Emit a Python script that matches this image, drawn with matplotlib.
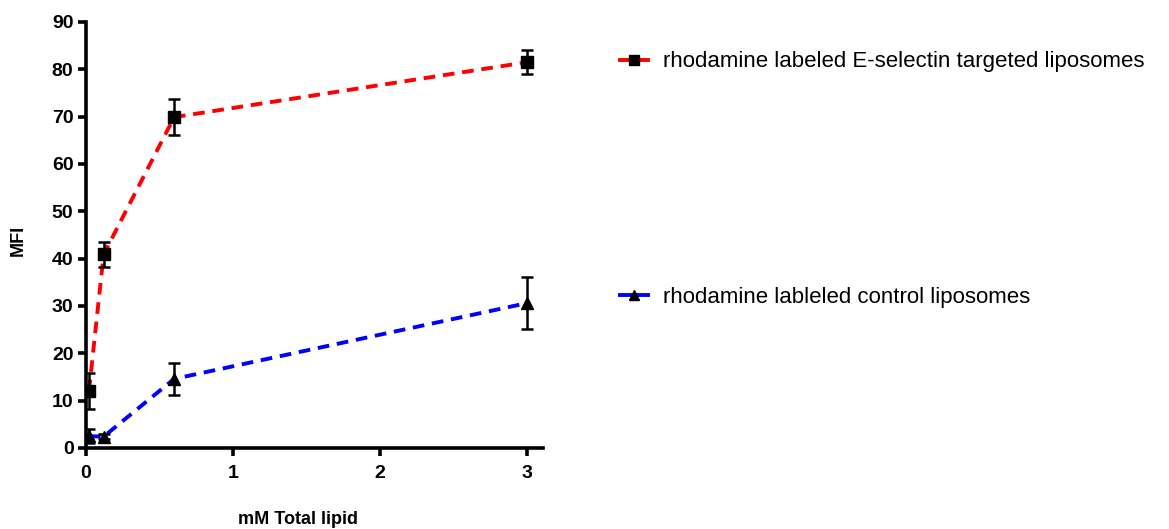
import matplotlib
matplotlib.use("Agg")
import matplotlib.pyplot as plt
from matplotlib.lines import Line2D

plt.rcParams['font.family'] = ['Liberation Sans', 'DejaVu Sans']

x_vals = [0.02, 0.12, 0.6, 3.0]
red_vals = [12.0, 40.9, 69.9, 81.5]
red_err = [3.8, 2.6, 3.8, 2.5]
blue_vals = [2.5, 2.4, 14.6, 30.6]
blue_err = [1.5, 0.5, 3.4, 5.5]
red_label = "rhodamine labeled E-selectin targeted liposomes"
blue_label = "rhodamine lableled control liposomes"
x_ticks = [0, 1, 2, 3]
y_ticks = [0, 10, 20, 30, 40, 50, 60, 70, 80, 90]

fig = plt.figure(figsize=(11.69, 5.29), dpi=100)
ax = fig.add_axes([86/1169, 1-448/529, (543-86)/1169, (448-22)/529])

for vals, errs, col, mk in [(red_vals, red_err, 'red', 's'), (blue_vals, blue_err, 'blue', '^')]:
    ax.plot(x_vals, vals, color=col, lw=2.8, ls=(0, (3, 2.0)), zorder=2)
    ax.errorbar(x_vals, vals, yerr=errs, fmt=mk, color='black', ms=8.5,
                ecolor='black', elinewidth=1.8, capsize=4.5, capthick=1.8, zorder=3)

ax.set_xlim(0, 3.11)
ax.set_ylim(0, 90)
ax.set_xticks(x_ticks)
ax.set_yticks(y_ticks)
for s in ['top', 'right']:
    ax.spines[s].set_visible(False)
for s in ['left', 'bottom']:
    ax.spines[s].set_linewidth(2.6)
ax.tick_params(width=2.6, length=6, direction='out', labelsize=14, pad=3)
for lab in ax.get_xticklabels() + ax.get_yticklabels():
    lab.set_fontweight('bold')
ax.tick_params(axis='x', pad=6)

fig.text(298/1169, 1-520/529, "mM Total lipid", ha='center', va='center', fontsize=13, fontweight='bold')
fig.text(18/1169, 1-240/529, "MFI", ha='center', va='center', fontsize=13, fontweight='bold', rotation=90)

h1 = Line2D([], [], color='red', lw=2.8, marker='s', mfc='black', mec='black', ms=6.5)
h2 = Line2D([], [], color='blue', lw=2.8, marker='^', mfc='black', mec='black', ms=6.5)
leg1 = fig.legend([h1], [red_label], loc='center left', bbox_to_anchor=(600/1169, 1-62/529),
                  frameon=False, fontsize=16, handlelength=1.25, handletextpad=0.7)
leg2 = fig.legend([h2], [blue_label], loc='center left', bbox_to_anchor=(600/1169, 1-297/529),
                  frameon=False, fontsize=16, handlelength=1.25, handletextpad=0.7)

fig.savefig("out.png", dpi=100)
